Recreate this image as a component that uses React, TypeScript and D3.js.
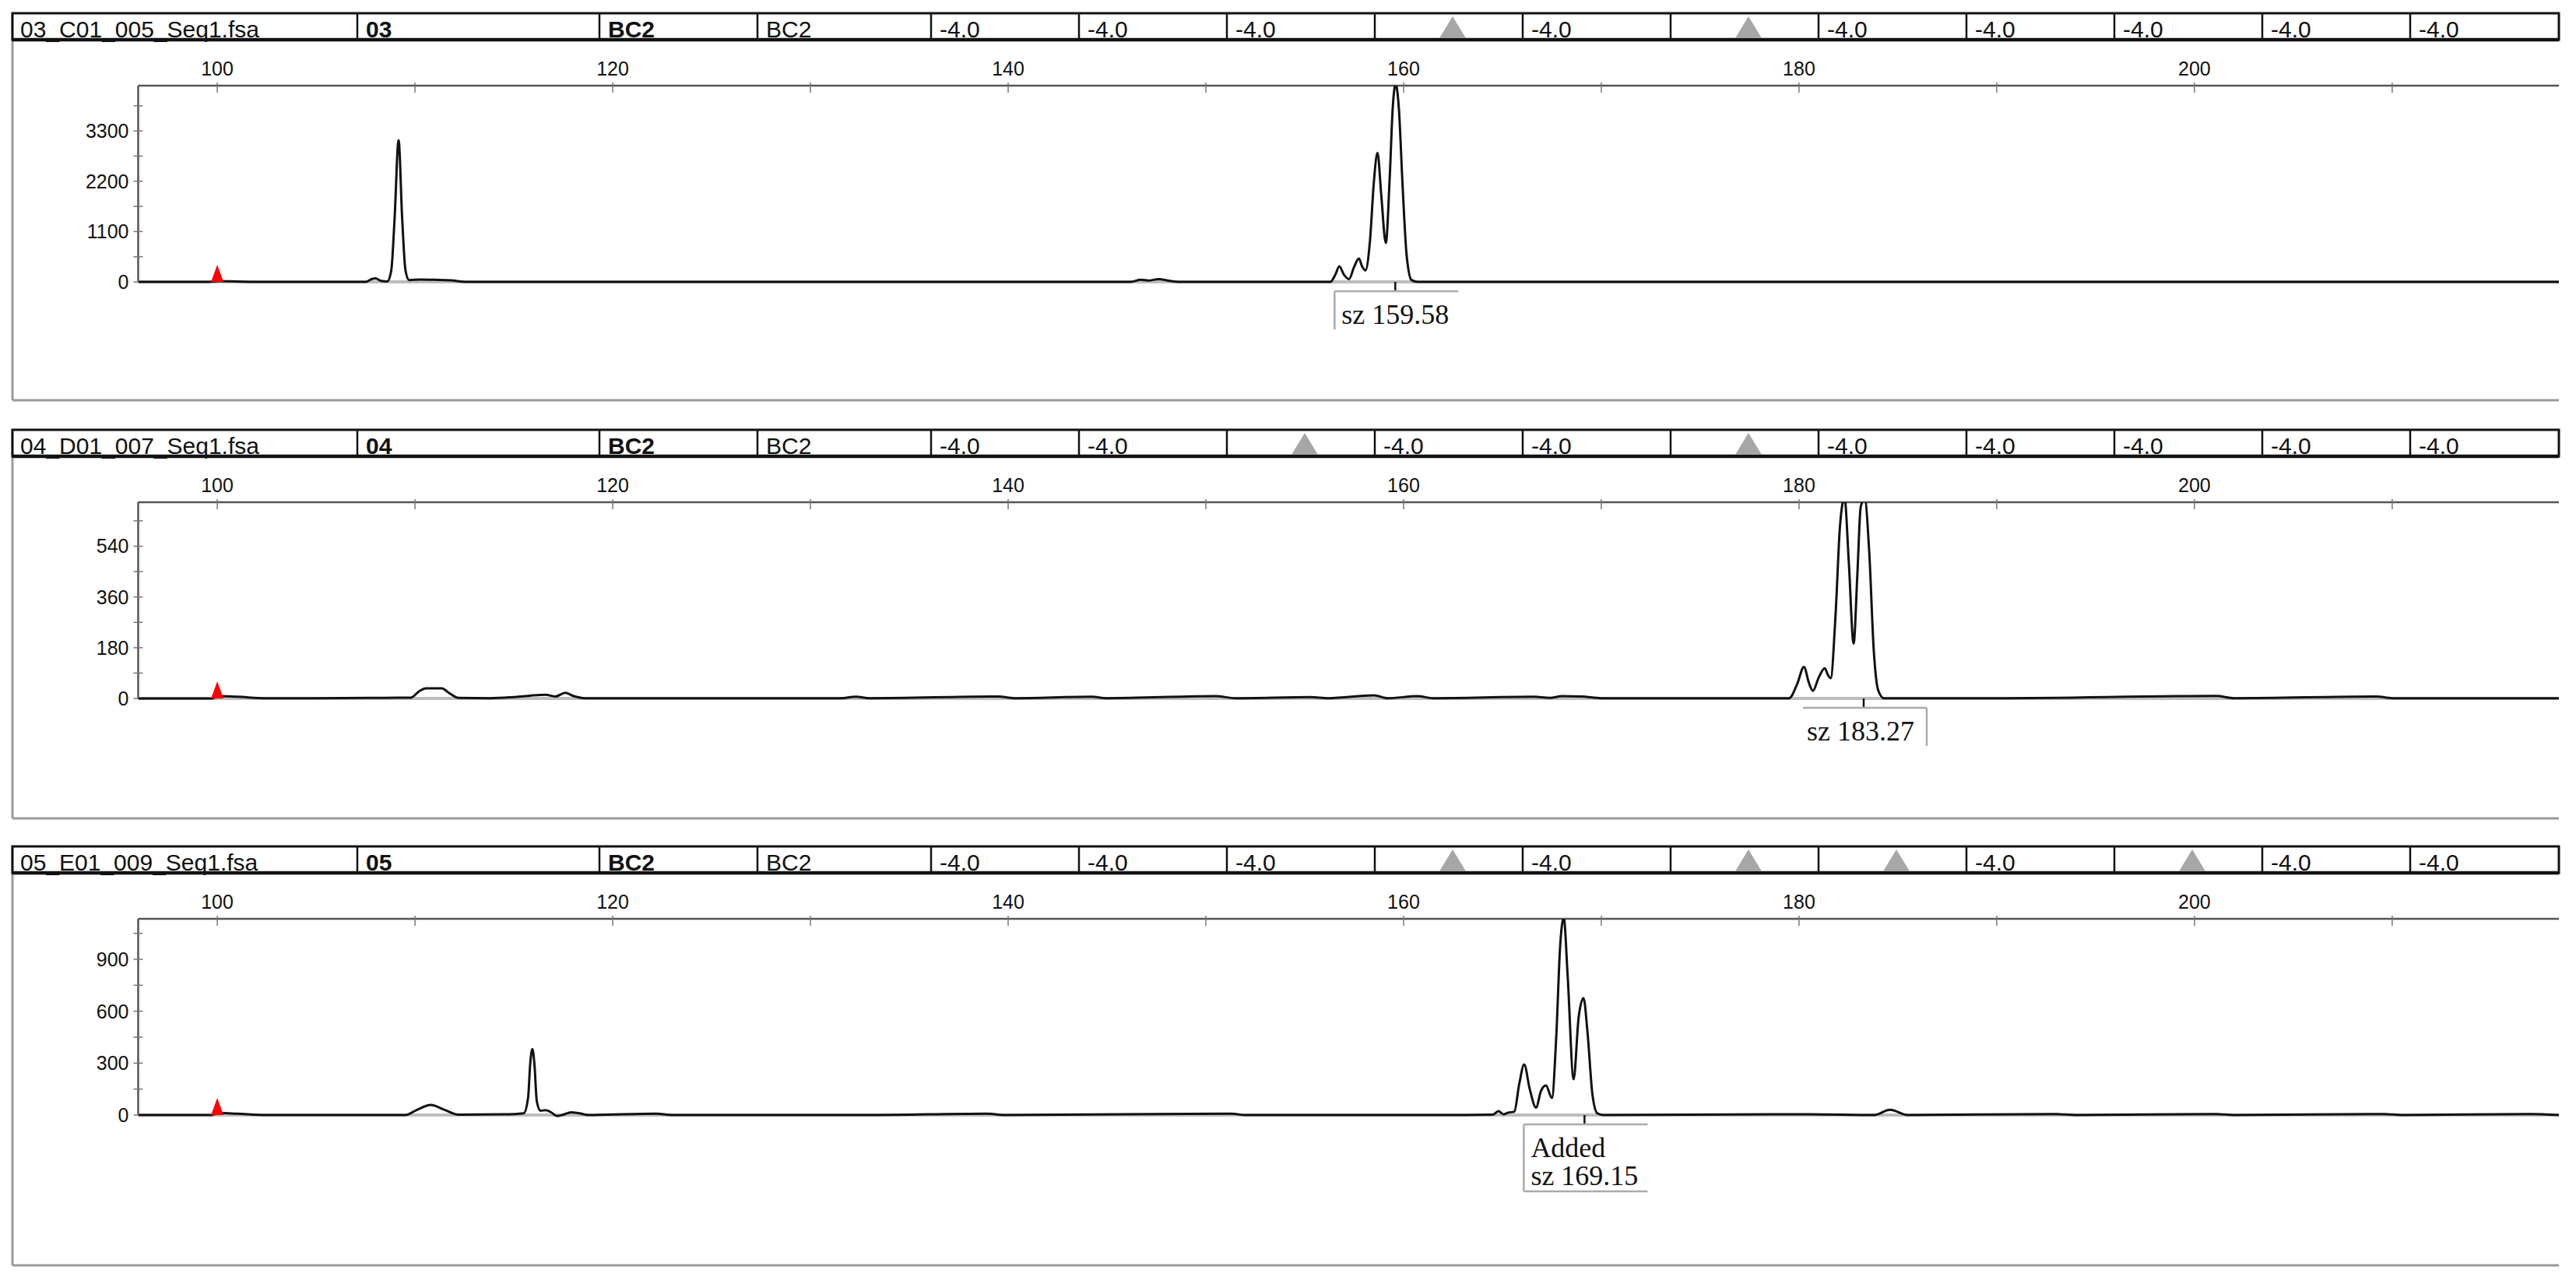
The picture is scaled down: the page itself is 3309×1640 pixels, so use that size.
import React, { useEffect, useRef } from 'react'
import * as d3 from 'd3'

type Pt = [number, number]

// header row of each panel
const fileNames = ['03_C01_005_Seq1.fsa', '04_D01_007_Seq1.fsa', '05_E01_009_Seq1.fsa']
const sampleNames = ['03', '04', '05']
const panelNames = ['BC2', 'BC2', 'BC2']
const binSetNames = ['BC2', 'BC2', 'BC2']
// 'tri' = grey marker triangle, otherwise text
const markerCells1 = ['-4.0', '-4.0', '-4.0', 'tri', '-4.0', 'tri', '-4.0', '-4.0', '-4.0', '-4.0', '-4.0']
const markerCells2 = ['-4.0', '-4.0', 'tri', '-4.0', '-4.0', 'tri', '-4.0', '-4.0', '-4.0', '-4.0', '-4.0']
const markerCells3 = ['-4.0', '-4.0', '-4.0', 'tri', '-4.0', 'tri', 'tri', '-4.0', 'tri', '-4.0', '-4.0']

// size axis (bp)
const sizeDomain: Pt = [96, 218.43]
const sizeLabels = [100, 120, 140, 160, 180, 200]
const sizeTicks = [100, 110, 120, 130, 140, 150, 160, 170, 180, 190, 200, 210]

// RFU axes
const yMax = [4290, 696, 1134]
const yLabels1 = [0, 1100, 2200, 3300]
const yTicks1 = [0, 550, 1100, 1650, 2200, 2750, 3300, 3850]
const yLabels2 = [0, 180, 360, 540]
const yTicks2 = [0, 90, 180, 270, 360, 450, 540, 630]
const yLabels3 = [0, 300, 600, 900]
const yTicks3 = [0, 150, 300, 450, 600, 750, 900, 1050]

// traces: [size, rfu]
const trace1: Pt[] = [
  [96.0, 0], [99.6, 0], [100.1, 15], [101.0, 8], [102.5, 0],
  [107.5, 0], [107.8, 60], [108.0, 75], [108.3, 20], [108.6, 10],
  [108.8, 250], [108.97, 1400], [109.17, 3100], [109.35, 1400], [109.52, 250], [109.7, 40],
  [110.3, 50], [111.0, 45], [111.8, 35], [112.6, 0],
  [125.0, 0], [140.0, 0],
  [146.2, 0], [146.7, 45], [147.1, 30], [147.6, 60], [148.2, 20], [148.6, 0],
  [156.3, 0], [156.55, 160], [156.75, 340], [156.98, 160], [157.24, 60], [157.5, 330],
  [157.74, 510], [157.9, 340], [158.07, 250], [158.3, 900], [158.5, 2200], [158.68, 2820],
  [158.87, 1900], [159.1, 850], [159.3, 2300], [159.45, 3800], [159.6, 4320], [159.76, 3800],
  [159.95, 2100], [160.15, 600], [160.4, 40], [160.7, 0],
  [218.43, 0],
]

const trace2: Pt[] = [
  [96, 0], [99.7, 0], [100.1, 8], [101.0, 6], [102.5, 1], [105, 1], [108, 2], [109.8, 3],
  [110.2, 25], [110.55, 36], [111.35, 36], [111.75, 18], [112.2, 2], [113.8, 1],
  [114.8, 4], [115.8, 10], [116.6, 13], [117.1, 7], [117.6, 20], [118.0, 9], [118.6, 1],
  [124, 1], [131.5, 1], [132.3, 6], [133, 1], [139.5, 7], [140.3, 1], [144.2, 6], [145, 1],
  [150.5, 8], [151.5, 1], [155.3, 5], [156.2, 1], [158.5, 11], [159.2, 1], [160.7, 8], [161.5, 1],
  [166.6, 6], [167.4, 2], [168, 8], [169, 7], [170, 1],
  [179.5, 1], [179.9, 50], [180.25, 112], [180.5, 55], [180.7, 27], [181.0, 75], [181.3, 107],
  [181.45, 85], [181.6, 72], [181.85, 300], [182.07, 610], [182.3, 712], [182.52, 480],
  [182.76, 195], [182.95, 440], [183.12, 680], [183.32, 708], [183.55, 520], [183.78, 170],
  [184.0, 30], [184.3, 1],
  [190, 1], [201.1, 9], [202, 1], [209.2, 7], [210, 1], [218.43, 1],
]

const trace3: Pt[] = [
  [96, 0], [99.7, 0], [100.1, 12], [101, 8], [102.5, 0],
  [109.5, 0], [110.1, 30], [110.8, 58], [111.5, 30], [112.2, 2], [114.5, 4], [115.5, 10],
  [115.72, 100], [115.83, 300], [115.94, 381], [116.05, 280], [116.16, 80], [116.35, 25],
  [116.6, 28], [116.85, 18], [117.2, -6], [117.5, 2], [117.9, 16], [118.3, 10], [118.8, 0],
  [122.2, 8], [123, 0], [133, 0], [138.9, 8], [139.8, 0], [151.3, 8], [152, 0], [163, 0],
  [164.5, 2], [164.8, 22], [165.05, 5], [165.3, 14], [165.6, 20],
  [165.85, 180], [166.1, 292], [166.38, 150], [166.7, 43], [166.95, 140], [167.2, 171],
  [167.5, 99], [167.72, 450], [167.92, 980], [168.1, 1140], [168.3, 800], [168.6, 207],
  [168.85, 560], [169.1, 676], [169.3, 480], [169.55, 120], [169.8, 10], [170.1, 0],
  [178.7, 5], [180.5, 5], [183.8, 0], [184.6, 30], [185.5, 0], [193, 6], [194, 0],
  [201.1, 6], [202, 0], [209.6, 6], [210.5, 0], [217, 6], [218.43, 0],
]

// allele call labels
const callSizes = [159.58, 183.27, 169.15]
const callLines = [['sz 159.58'], ['sz 183.27'], ['Added', 'sz 169.15']]
const callSides = ['left', 'right', 'leftBottom']

const panels = [
  { cells: [fileNames[0], sampleNames[0], panelNames[0], binSetNames[0], ...markerCells1], trace: trace1, max: yMax[0], labels: yLabels1, ticks: yTicks1, bottom: 498 },
  { cells: [fileNames[1], sampleNames[1], panelNames[1], binSetNames[1], ...markerCells2], trace: trace2, max: yMax[1], labels: yLabels2, ticks: yTicks2, bottom: 500 },
  { cells: [fileNames[2], sampleNames[2], panelNames[2], binSetNames[2], ...markerCells3], trace: trace3, max: yMax[2], labels: yLabels3, ticks: yTicks3, bottom: 539 },
]

const W = 3309
const H = 1640
const panelTops = [16, 551, 1086]
const colEdges = [16, 459, 770, 973, 1196, 1386, 1576, 1766, 1956, 2146, 2336, 2526, 2716, 2906, 3096, 3287]
const plotLeft = 177.5
const plotRight = 3287
const SANS = '"Liberation Sans", Arial, sans-serif'
const SERIF = '"Liberation Serif", "Times New Roman", serif'

const App: React.FC = () => {
  const ref = useRef<SVGSVGElement>(null)

  useEffect(() => {
    renderChart()
  }, [])

  const renderChart = () => {
    const svg = d3.select(ref.current)
    svg.selectAll('*').remove()
    svg.append('rect').attr('width', W).attr('height', H).attr('fill', '#fff')

    const x = d3.scaleLinear().domain(sizeDomain).range([plotLeft, plotRight])

    panels.forEach((p, i) => {
      const T = panelTops[i]
      const g = svg.append('g')
      const axisY = T + 94
      const baseY = T + 346
      const y = d3.scaleLinear().domain([0, p.max]).range([baseY, axisY])

      /* frame */
      g.append('line')
        .attr('x1', 16).attr('x2', 16).attr('y1', T).attr('y2', T + p.bottom)
        .attr('stroke', '#9a9a9a').attr('stroke-width', 3)
      g.append('line')
        .attr('x1', 16).attr('x2', plotRight).attr('y1', T + p.bottom).attr('y2', T + p.bottom)
        .attr('stroke', '#9a9a9a').attr('stroke-width', 3)

      /* header */
      g.append('rect')
        .attr('x', 16).attr('y', T + 1).attr('width', plotRight - 16).attr('height', 34)
        .attr('fill', '#fff').attr('stroke', '#111').attr('stroke-width', 3)
      g.append('line')
        .attr('x1', 16).attr('x2', plotRight).attr('y1', T + 35).attr('y2', T + 35)
        .attr('stroke', '#111').attr('stroke-width', 4.5)
      colEdges.slice(1, -1).forEach((cx) => {
        g.append('line')
          .attr('x1', cx).attr('x2', cx).attr('y1', T + 1).attr('y2', T + 35)
          .attr('stroke', '#111').attr('stroke-width', 2.5)
      })
      p.cells.forEach((c, ci) => {
        const left = colEdges[ci]
        const right = colEdges[ci + 1]
        if (c === 'tri') {
          const cx = (left + right) / 2 + 5
          g.append('path')
            .attr('d', `M${cx - 17},${T + 33}L${cx + 17},${T + 33}L${cx},${T + 5}Z`)
            .attr('fill', '#a6a6a6')
        } else {
          g.append('text')
            .attr('x', left + (ci === 0 ? 10 : 11))
            .attr('y', T + 32)
            .attr('font-family', SANS)
            .attr('font-size', 30)
            .attr('font-weight', ci === 1 || ci === 2 ? 'bold' : 'normal')
            .attr('fill', '#111')
            .text(c)
        }
      })

      /* size axis (top) */
      g.append('line')
        .attr('x1', plotLeft).attr('x2', plotRight).attr('y1', axisY).attr('y2', axisY)
        .attr('stroke', '#555').attr('stroke-width', 2.5)
      sizeTicks.forEach((t) => {
        g.append('line')
          .attr('x1', x(t)).attr('x2', x(t)).attr('y1', axisY - 4).attr('y2', axisY + 9)
          .attr('stroke', '#777').attr('stroke-width', 1.5)
      })
      sizeLabels.forEach((t) => {
        g.append('text')
          .attr('x', x(t)).attr('y', T + 81)
          .attr('text-anchor', 'middle')
          .attr('font-family', SANS).attr('font-size', 25).attr('fill', '#111')
          .text(t)
      })

      /* rfu axis */
      g.append('line')
        .attr('x1', plotLeft).attr('x2', plotLeft).attr('y1', axisY).attr('y2', baseY)
        .attr('stroke', '#555').attr('stroke-width', 2.5)
      p.ticks.forEach((t) => {
        g.append('line')
          .attr('x1', plotLeft - 6).attr('x2', plotLeft + 6).attr('y1', y(t)).attr('y2', y(t))
          .attr('stroke', '#777').attr('stroke-width', 1.5)
      })
      p.labels.forEach((t) => {
        g.append('text')
          .attr('x', plotLeft - 12).attr('y', y(t) + 9)
          .attr('text-anchor', 'end')
          .attr('font-family', SANS).attr('font-size', 25).attr('fill', '#111')
          .text(t)
      })

      /* baseline */
      g.append('line')
        .attr('x1', plotLeft).attr('x2', plotRight).attr('y1', baseY).attr('y2', baseY)
        .attr('stroke', '#bdbdbd').attr('stroke-width', 4)

      /* trace */
      const clipId = `clip-${i}`
      svg.append('defs').append('clipPath').attr('id', clipId)
        .append('rect')
        .attr('x', plotLeft).attr('y', axisY)
        .attr('width', plotRight - plotLeft).attr('height', baseY - axisY + 12)

      const line = d3.line<Pt>()
        .x((d) => x(d[0]))
        .y((d) => y(d[1]))
        .curve(d3.curveMonotoneX)

      g.append('path')
        .attr('clip-path', `url(#${clipId})`)
        .attr('d', line(p.trace) as string)
        .attr('fill', 'none')
        .attr('stroke', '#111')
        .attr('stroke-width', 3)
        .attr('stroke-linejoin', 'round')

      /* red size standard marker at 100 */
      const rx = x(100)
      g.append('path')
        .attr('d', `M${rx - 8},${baseY}L${rx + 8},${baseY}L${rx},${baseY - 22}Z`)
        .attr('fill', '#ff0000')

      /* allele call box */
      const tx = x(callSizes[i])
      const boxL = tx - 78
      const boxR = tx + 81
      const boxT = baseY + 12
      const lines = callLines[i]
      const boxB = boxT + 12 + lines.length * 37
      g.append('line')
        .attr('x1', tx).attr('x2', tx).attr('y1', baseY).attr('y2', boxT)
        .attr('stroke', '#111').attr('stroke-width', 2.5)
      g.append('line')
        .attr('x1', boxL).attr('x2', boxR).attr('y1', boxT).attr('y2', boxT)
        .attr('stroke', '#aaa').attr('stroke-width', 2.5)
      const side = callSides[i]
      if (side === 'left' || side === 'leftBottom') {
        g.append('line')
          .attr('x1', boxL).attr('x2', boxL).attr('y1', boxT).attr('y2', boxB)
          .attr('stroke', '#aaa').attr('stroke-width', 2.5)
      }
      if (side === 'right') {
        g.append('line')
          .attr('x1', boxR).attr('x2', boxR).attr('y1', boxT).attr('y2', boxB)
          .attr('stroke', '#aaa').attr('stroke-width', 2.5)
      }
      if (side === 'leftBottom') {
        g.append('line')
          .attr('x1', boxL).attr('x2', boxR).attr('y1', boxB).attr('y2', boxB)
          .attr('stroke', '#aaa').attr('stroke-width', 2.5)
      }
      lines.forEach((s, li) => {
        g.append('text')
          .attr('x', boxL + (side === 'right' ? 5 : 9))
          .attr('y', baseY + 54 + li * 36)
          .attr('font-family', SERIF)
          .attr('font-size', 36)
          .attr('fill', '#111')
          .text(s)
      })
    })
  }

  return (
    <svg
      ref={ref}
      width={W}
      height={H}
      style={{ position: 'absolute', left: 0, top: 0, display: 'block' }}
    />
  )
}

export default App
